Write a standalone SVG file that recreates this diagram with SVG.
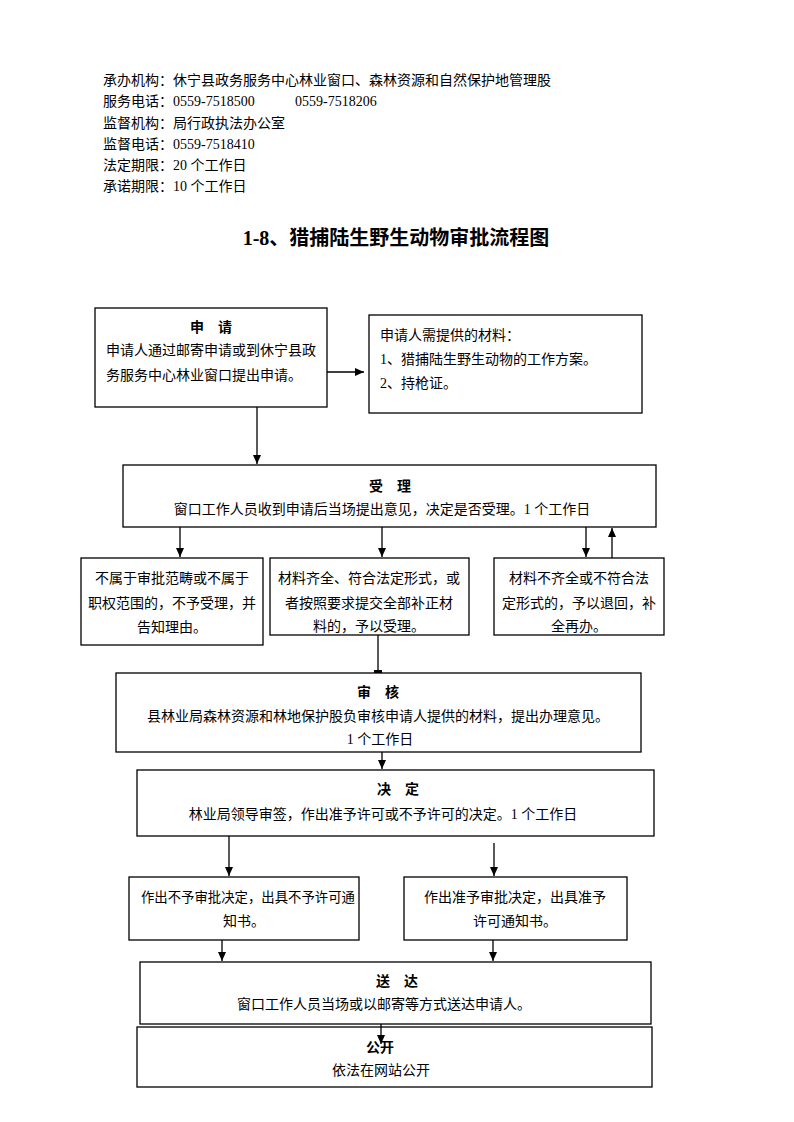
<svg xmlns="http://www.w3.org/2000/svg" width="794" height="1122" viewBox="0 0 794 1122">
<defs>
<marker id="ah" markerUnits="userSpaceOnUse" markerWidth="10" markerHeight="10" refX="9" refY="4" orient="auto">
<path d="M0,0 L9,4 L0,8 Z" fill="#000"/>
</marker>
<style>
.t{font-family:"Liberation Serif","Noto Sans CJK SC",serif;font-size:14px;fill:#000}
.b{font-family:"Liberation Sans","Noto Sans CJK SC",sans-serif;font-size:14px;font-weight:bold;fill:#000}
.h{font-family:"Liberation Serif","Noto Sans CJK SC",serif;font-size:20px;font-weight:bold;fill:#000}
.box{fill:#fff;stroke:#000;stroke-width:1.3}
.c{stroke:#000;stroke-width:1.3;fill:none}
.m{text-anchor:middle}
</style>
</defs>
<rect width="794" height="1122" fill="#fff"/>
<g id="header">
<text class="t" x="103" y="85">承办机构：休宁县政务服务中心林业窗口、森林资源和自然保护地管理股</text>
<text class="t" x="103" y="106">服务电话：0559-7518500<tspan x="295">0559-7518206</tspan></text>
<text class="t" x="103" y="128">监督机构：局行政执法办公室</text>
<text class="t" x="103" y="149">监督电话：0559-7518410</text>
<text class="t" x="103" y="170">法定期限：20 个工作日</text>
<text class="t" x="103" y="191">承诺期限：10 个工作日</text>
<text class="h m" x="396" y="245">1-8、猎捕陆生野生动物审批流程图</text>
</g>
<g id="connectors">
<line class="c" x1="327" y1="372" x2="364" y2="372" marker-end="url(#ah)"/>
<line class="c" x1="257" y1="407" x2="257" y2="464" marker-end="url(#ah)"/>
<line class="c" x1="180" y1="527" x2="180" y2="557" marker-end="url(#ah)"/>
<line class="c" x1="382" y1="527" x2="382" y2="557" marker-end="url(#ah)"/>
<line class="c" x1="586" y1="527" x2="586" y2="557" marker-end="url(#ah)"/>
<line class="c" x1="612" y1="558" x2="612" y2="528" marker-end="url(#ah)"/>
<line class="c" x1="378" y1="635" x2="378" y2="672"/>
<rect x="374" y="670" width="8" height="3" fill="#000"/>
<line class="c" x1="382" y1="738" x2="382" y2="769" marker-end="url(#ah)"/>
<line class="c" x1="229" y1="836" x2="229" y2="876" marker-end="url(#ah)"/>
<line class="c" x1="494" y1="843" x2="494" y2="876" marker-end="url(#ah)"/>
<line class="c" x1="222" y1="940" x2="222" y2="961" marker-end="url(#ah)"/>
<line class="c" x1="493" y1="940" x2="493" y2="961" marker-end="url(#ah)"/>
</g>
<g id="apply">
<rect class="box" x="95" y="308" width="232" height="99"/>
<text class="b m" x="211" y="332">申　请</text>
<text class="t" x="106" y="355">申请人通过邮寄申请或到休宁县政</text>
<text class="t" x="106" y="380">务服务中心林业窗口提出申请。</text>
</g>
<g id="materials">
<rect class="box" x="369" y="315" width="273" height="98"/>
<text class="t" x="380" y="340">申请人需提供的材料：</text>
<text class="t" x="380" y="364">1、猎捕陆生野生动物的工作方案。</text>
<text class="t" x="380" y="388">2、持枪证。</text>
</g>
<g id="accept">
<rect class="box" x="123" y="465" width="533" height="62"/>
<text class="b m" x="390" y="491">受　理</text>
<text class="t m" x="382" y="514">窗口工作人员收到申请后当场提出意见，决定是否受理。1 个工作日</text>
</g>
<g id="reject">
<rect class="box" x="81" y="558" width="182" height="87"/>
<text class="t m" x="172" y="583">不属于审批范畴或不属于</text>
<text class="t m" x="172" y="608">职权范围的，不予受理，并</text>
<text class="t m" x="172" y="632">告知理由。</text>
</g>
<g id="complete">
<rect class="box" x="270" y="558" width="199" height="77"/>
<text class="t m" x="369" y="583">材料齐全、符合法定形式，或</text>
<text class="t m" x="369" y="608">者按照要求提交全部补正材</text>
<text class="t m" x="369" y="631">料的，予以受理。</text>
</g>
<g id="incomplete">
<rect class="box" x="494" y="558" width="170" height="77"/>
<text class="t m" x="579" y="583">材料不齐全或不符合法</text>
<text class="t m" x="579" y="608">定形式的，予以退回，补</text>
<text class="t m" x="579" y="631">全再办。</text>
</g>
<g id="review">
<rect class="box" x="116" y="673" width="525" height="79"/>
<text class="b m" x="378" y="697">审　核</text>
<text class="t m" x="378" y="721">县林业局森林资源和林地保护股负审核申请人提供的材料，提出办理意见。</text>
<text class="t m" x="380" y="744">1 个工作日</text>
</g>
<g id="decide">
<rect class="box" x="137" y="770" width="517" height="66"/>
<text class="b m" x="398" y="794">决　定</text>
<text class="t m" x="383" y="819">林业局领导审签，作出准予许可或不予许可的决定。1 个工作日</text>
</g>
<g id="deny">
<rect class="box" x="129" y="877" width="230" height="63"/>
<text class="t" x="141" y="902" textLength="214" lengthAdjust="spacingAndGlyphs">作出不予审批决定，出具不予许可通</text>
<text class="t m" x="244" y="926">知书。</text>
</g>
<g id="grant">
<rect class="box" x="404" y="877" width="223" height="63"/>
<text class="t m" x="515" y="902">作出准予审批决定，出具准予</text>
<text class="t m" x="515" y="926">许可通知书。</text>
</g>
<g id="deliver">
<rect class="box" x="140" y="962" width="511" height="62"/>
<text class="b m" x="397" y="986">送　达</text>
<text class="t m" x="384" y="1009">窗口工作人员当场或以邮寄等方式送达申请人。</text>
</g>
<g id="publish">
<rect class="box" x="137" y="1027" width="515" height="60"/>
<text class="b m" x="380" y="1052">公开</text>
<text class="t m" x="381" y="1075">依法在网站公开</text>
</g>
<g id="connectors-top">
<line class="c" x1="381" y1="1024" x2="381" y2="1044" marker-end="url(#ah)"/>
</g>
</svg>
